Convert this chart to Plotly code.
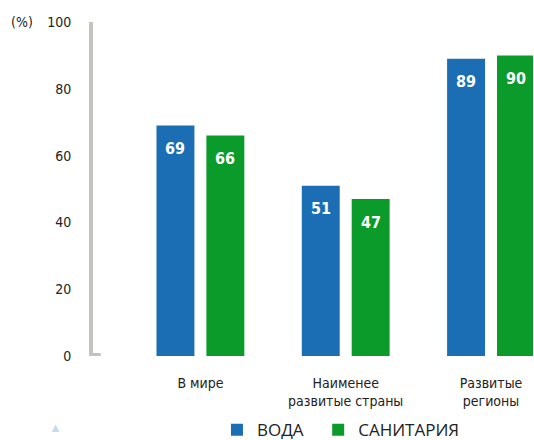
import plotly.graph_objects as go

# данные
categories = ["В мире", "Наименее<br>развитые страны", "Развитые<br>регионы"]
water = [69, 51, 89]
sanitation = [66, 47, 90]
series_names = ["ВОДА", "САНИТАРИЯ"]
y_ticks = [0, 20, 40, 60, 80, 100]

BLUE = "#1b6eb3"
GREEN = "#0b9b2b"
COND = "Liberation Sans Narrow, DejaVu Sans Condensed, Arial Narrow, sans-serif"

xs = list(range(len(categories)))

fig = go.Figure()
fig.add_trace(go.Bar(x=xs, y=water, name=series_names[0], legend="legend",
                     marker=dict(color=BLUE, line=dict(width=0))))
fig.add_trace(go.Bar(x=xs, y=sanitation, name=series_names[1], legend="legend2",
                     marker=dict(color=GREEN, line=dict(width=0))))

# подписи значений внутри столбцов
ann = []
for vals, shift in ((water, -25), (sanitation, 25)):
    for x, v in zip(xs, vals):
        ann.append(dict(x=x, y=v, xref="x", yref="y", text=f"<b>{v}</b>", showarrow=False,
                        xshift=shift, yshift=-23, yanchor="middle",
                        font=dict(family=COND, size=16, color="white")))
ann.append(dict(x=-0.185, y=100, xref="paper", yref="y", text="(%)", showarrow=False,
                xanchor="left", yanchor="middle", font=dict(family=COND, size=14, color="#222")))
ann.append(dict(x=-0.1, y=-0.245, xref="paper", yref="paper", text="▲", showarrow=False,
                font=dict(size=13, color="#c4dbf1")))

leg_font = dict(family="Open Sans, sans-serif", size=17, color="#222")
fig.update_layout(
    width=534, height=440,
    margin=dict(l=91, r=1, t=22, b=84, autoexpand=False),
    paper_bgcolor="white", plot_bgcolor="white",
    barmode="group", bargap=0.313, bargroupgap=0.24,
    showlegend=True,
    legend=dict(orientation="h", x=0.285, xanchor="left", y=-0.222, yanchor="middle",
                font=leg_font, itemclick=False),
    legend2=dict(orientation="h", x=0.514, xanchor="left", y=-0.222, yanchor="middle",
                 font=leg_font, itemclick=False),
    annotations=ann,
    shapes=[dict(type="path", xref="paper", yref="y",
                 path="M 0.022,101.8 L 0,101.8 L 0,0.3 L 0.022,0.3",
                 line=dict(color="#c4c3be", width=4))],
    xaxis=dict(range=[-0.753, 2.289], tickvals=xs, ticktext=categories,
               showgrid=False, zeroline=False, showline=False,
               ticks="outside", ticklen=14, tickcolor="rgba(0,0,0,0)",
               tickfont=dict(family=COND, size=14, color="#222")),
    yaxis=dict(range=[0, 100], tickvals=y_ticks, showgrid=False, zeroline=False, showline=False,
               ticks="outside", ticklen=16, tickcolor="rgba(0,0,0,0)",
               tickfont=dict(family=COND, size=14, color="#222")),
)

# убрать отступ body, чтобы график стоял ровно в окне
fig.write_html("out.html", config={"displayModeBar": False},
               post_script="document.body.style.margin='0';")
